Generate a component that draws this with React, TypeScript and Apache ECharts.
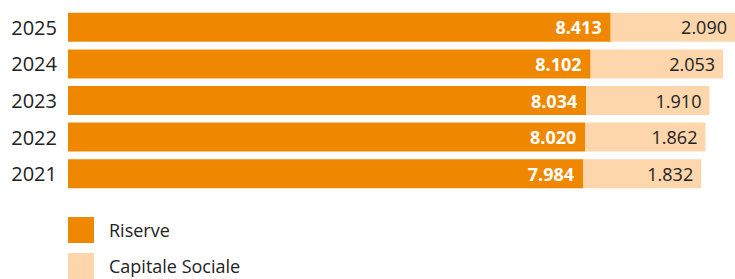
import React, { useEffect, useRef } from "react";
import * as echarts from "echarts";

const years = ["2021", "2022", "2023", "2024", "2025"];
const riserve = [7984, 8020, 8034, 8102, 8413];
const capitaleSociale = [1832, 1862, 1910, 2053, 2090];
const seriesNames = ["Riserve", "Capitale Sociale"];

const ORANGE = "#F08700";
const PEACH = "#FDD6AC";
const FONT = "'Open Sans', 'Noto Sans', sans-serif";

const fmt = (v: number) => {
  const s = String(Math.round(v));
  return s.replace(/\B(?=(\d{3})+(?!\d))/g, ".");
};

export default function App() {
  const ref = useRef<HTMLDivElement>(null);
  useEffect(() => {
    if (!ref.current) return;
    const chart = echarts.init(ref.current, undefined, { renderer: "svg" });
    chart.setOption({
      animation: false,
      textStyle: { fontFamily: FONT },
      grid: { left: 68, right: 0, top: 9, height: 183, containLabel: false },
      xAxis: {
        type: "value",
        min: 0,
        max: 10340,
        show: false,
      },
      yAxis: {
        type: "category",
        data: years,
        axisLine: { show: false },
        axisTick: { show: false },
        splitLine: { show: false },
        axisLabel: { color: "#222", fontSize: 20, margin: 11, fontFamily: FONT },
      },
      legend: {
        orient: "vertical",
        left: 68,
        top: 217,
        height: 120,
        padding: 0,
        itemWidth: 26,
        itemHeight: 26,
        itemGap: 10,
        icon: "rect",
        selectedMode: false,
        data: seriesNames,
        textStyle: { color: "#222", fontSize: 18, lineHeight: 20, fontFamily: FONT, padding: [0, 0, 0, 10] },
      },
      series: [
        {
          name: seriesNames[0],
          type: "bar",
          stack: "tot",
          data: riserve,
          barWidth: 29,
          itemStyle: { color: ORANGE },
          label: {
            show: true,
            position: "insideRight",
            distance: 9,
            color: "#fff",
            fontWeight: "bold",
            fontSize: 18,
            fontFamily: FONT,
            formatter: (p: any) => fmt(p.value),
          },
        },
        {
          name: seriesNames[1],
          type: "bar",
          stack: "tot",
          data: capitaleSociale,
          barWidth: 29,
          itemStyle: { color: PEACH },
          label: {
            show: true,
            position: "insideRight",
            distance: 8,
            color: "#222",
            fontSize: 18,
            fontFamily: FONT,
            formatter: (p: any) => fmt(p.value),
          },
        },
      ],
    });
    return () => chart.dispose();
  }, []);
  return (
    <div
      ref={ref}
      style={{ position: "fixed", left: 0, top: 0, width: 735, height: 279, background: "#fff" }}
    />
  );
}
